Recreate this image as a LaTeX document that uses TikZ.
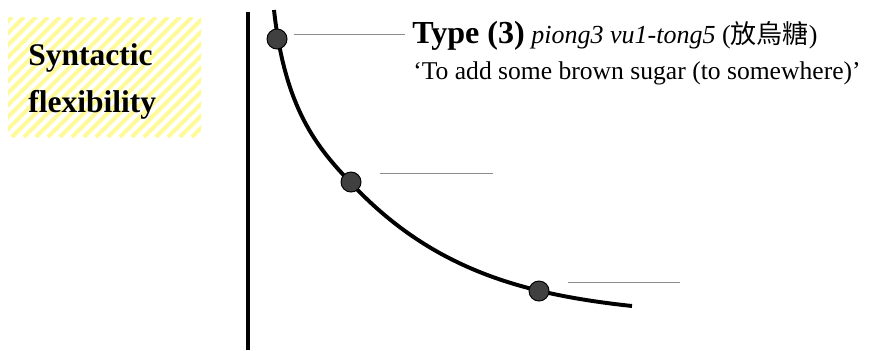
\documentclass[tikz,border=0pt]{standalone}
\usepackage{fontspec}
\setmainfont{Liberation Serif}
\newfontfamily\cjk{Noto Sans CJK TC}
\usetikzlibrary{positioning}

\begin{document}
\begin{tikzpicture}[x=0.025cm,y=-0.025cm]

\tikzset{dot/.style = {shape=circle,draw,line width=0.7pt,fill=black!75,minimum size=0.5cm,inner sep=0}}
\tikzset{guide/.style = {draw=black!45,line width=0.5pt}}
\tikzset{stripe/.style = {draw=yellow!40,line width=3pt}}
\tikzset{thick line/.style = {line width=2.8pt}}

\useasboundingbox (0,0) rectangle (878,350);
%hatched box
\begin{scope}
\clip (8,17) rectangle (201,137);
\foreach \i in {-132,-120,...,204}
  \draw[stripe] (\i,137) -- ++(120,-120);
\end{scope}
\node[anchor=base west, align=left, inner sep=0, font=\bfseries\fontsize{22.4}{33.4}\selectfont] (flex) at (28,112) {Syntactic\\flexibility};
%axis
\coordinate (top) at (248,12);
\coordinate (bot) at (248,350);
\draw[thick line] (top) -- (bot);
%curve
\coordinate (c0) at (274,10);
\coordinate (c1) at (350,182);
\coordinate (c2) at (632,306);
\draw[thick line] (c0) .. controls (285,110) and (318,148) .. (c1)
  .. controls (430,268) and (520,294) .. (c2);
%dots
\node[dot] (1) at (277,39) {};
\node[dot] (2) at (351,182) {};
\node[dot] (3) at (539,291) {};
%labels
\node[anchor=base west, inner sep=0] (t1) at (412,43) {{\bfseries\fontsize{22.8}{27}\selectfont Type (3)}\fontsize{18.5}{22}\selectfont{} \textit{piong3 vu1-tong5} ({\cjk 放烏糖})};
\node[anchor=base west, inner sep=0, font=\fontsize{18.2}{22}\selectfont] (t2) at (413,79) {‘To add some brown sugar (to somewhere)’};
%guides
\coordinate (g2) at (493,173);
\coordinate (g3) at (680,282);
\draw[guide] ([shift={(6,-5)}]1.east) -- ([shift={(-7,-9)}]t1.base west);
\draw[guide] ([shift={(18,-9)}]2.east) -- (g2);
\draw[guide] ([shift={(18,-9)}]3.east) -- (g3);

\end{tikzpicture}
\end{document}
